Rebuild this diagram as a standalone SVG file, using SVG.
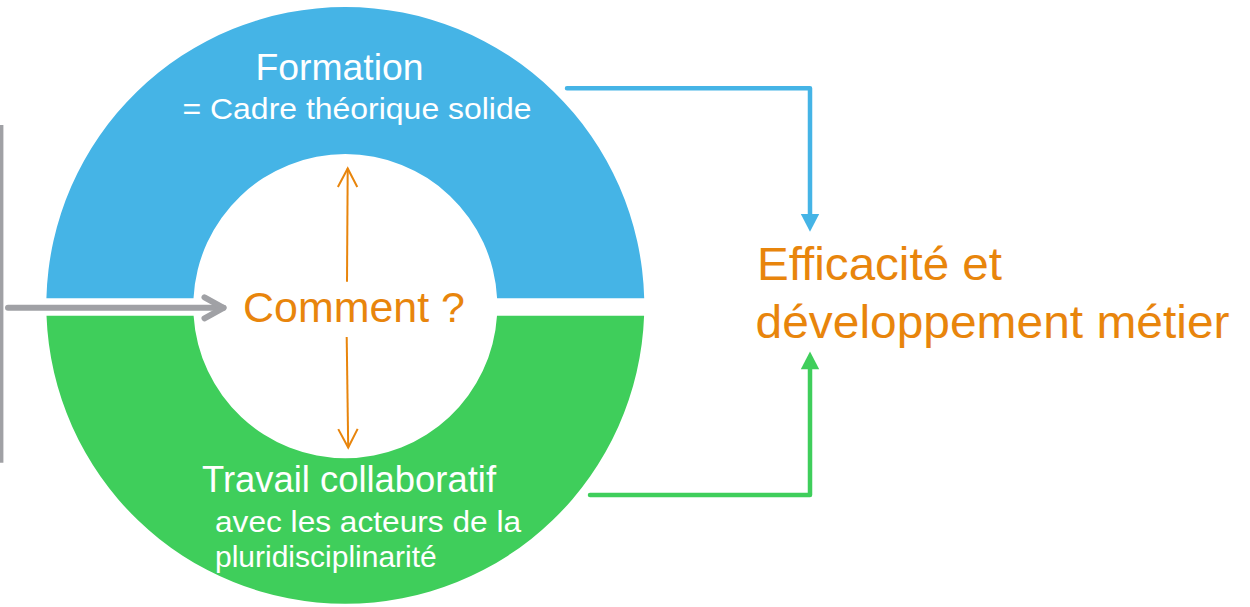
<svg xmlns="http://www.w3.org/2000/svg" width="1250" height="607" viewBox="0 0 1250 607">
  <style>
    .wt { fill: #ffffff; font-family: "Liberation Sans", Arial, sans-serif; }
    .or { fill: #E8850C; font-family: "Liberation Sans", Arial, sans-serif; }
    .orl { stroke: #E8850C; stroke-width: 2; fill: none; }
    .gry { stroke: #A0A1A5; stroke-width: 6; fill: none; stroke-linecap: round; stroke-linejoin: round; }
    .blue { stroke: #45B4E6; stroke-width: 4.5; fill: none; stroke-linecap: round; stroke-linejoin: round; }
    .green { stroke: #3FCE5B; stroke-width: 4.5; fill: none; stroke-linecap: round; stroke-linejoin: round; }
  </style>
  <defs>
    <marker id="chevOr" markerUnits="userSpaceOnUse" viewBox="-20 -12 24 24" markerWidth="24" markerHeight="24" refX="0" refY="0" orient="auto" overflow="visible">
      <path d="M-18.5 -9.7 L0 0 L-18.5 9.7" fill="none" stroke="#E8850C" stroke-width="2"/>
    </marker>
    <marker id="chevGray" markerUnits="userSpaceOnUse" viewBox="-26 -14 30 28" markerWidth="30" markerHeight="28" refX="0" refY="0" orient="auto" overflow="visible">
      <path d="M-19 -10.5 L0 0 L-19 10.5" fill="none" stroke="#A0A1A5" stroke-width="6" stroke-linecap="round" stroke-linejoin="round"/>
    </marker>
    <marker id="triBlue" markerUnits="userSpaceOnUse" viewBox="0 -10 20 20" markerWidth="20" markerHeight="20" refX="0" refY="0" orient="auto" overflow="visible">
      <path d="M0 -9.2 L17.7 0 L0 9.2 Z" fill="#45B4E6"/>
    </marker>
    <marker id="triGreen" markerUnits="userSpaceOnUse" viewBox="0 -10 20 20" markerWidth="20" markerHeight="20" refX="0" refY="0" orient="auto" overflow="visible">
      <path d="M0 -9.2 L17.7 0 L0 9.2 Z" fill="#3FCE5B"/>
    </marker>
  </defs>

  <rect x="0" y="0" width="1250" height="607" fill="#ffffff"/>

  <g id="formation">
    <path d="M46.4 298.3 A299 299 0 0 1 644.2 298.3 L497.1 298.3 A152 152 0 0 0 193.5 298.3 Z" fill="#45B4E6"/>
    <text class="wt" x="255.5" y="80" font-size="36" textLength="168" lengthAdjust="spacingAndGlyphs">Formation</text>
    <text class="wt" x="182.5" y="119" font-size="30" textLength="349" lengthAdjust="spacingAndGlyphs">= Cadre théorique solide</text>
  </g>

  <g id="travail">
    <path d="M46.5 315.7 A299 299 0 0 0 644.1 315.7 L497 315.7 A152 152 0 0 1 193.6 315.7 Z" fill="#3FCE5B"/>
    <text class="wt" x="202" y="491.7" font-size="36" textLength="294" lengthAdjust="spacingAndGlyphs">Travail collaboratif</text>
    <text class="wt" x="215" y="531.7" font-size="30" textLength="306" lengthAdjust="spacingAndGlyphs">avec les acteurs de la</text>
    <text class="wt" x="215" y="567" font-size="30">pluridisciplinarité</text>
  </g>

  <g id="comment">
    <text class="or" x="243" y="322.3" font-size="42" textLength="222" lengthAdjust="spacingAndGlyphs">Comment ?</text>
  </g>

  <g id="efficacite">
    <text class="or" x="757" y="280" font-size="46" textLength="245" lengthAdjust="spacingAndGlyphs">Efficacité et</text>
    <text class="or" x="755.5" y="338.3" font-size="46" textLength="474" lengthAdjust="spacingAndGlyphs">développement métier</text>
  </g>

  <g id="entree">
    <line x1="1.7" y1="125" x2="1.7" y2="462.7" stroke="#A0A1A5" stroke-width="3.4"/>
  </g>

  <g id="connectors">
    <path class="gry" d="M8 307.8 L223.5 307.8" marker-end="url(#chevGray)"/>
    <path class="orl" d="M347 281.7 L347.7 168.5" marker-end="url(#chevOr)"/>
    <path class="orl" d="M346.7 337 L348.2 447.5" marker-end="url(#chevOr)"/>
    <path class="blue" d="M567 88.3 H810 V214" marker-end="url(#triBlue)"/>
    <path class="green" d="M590 495 H810 V369.3" marker-end="url(#triGreen)"/>
  </g>
</svg>
